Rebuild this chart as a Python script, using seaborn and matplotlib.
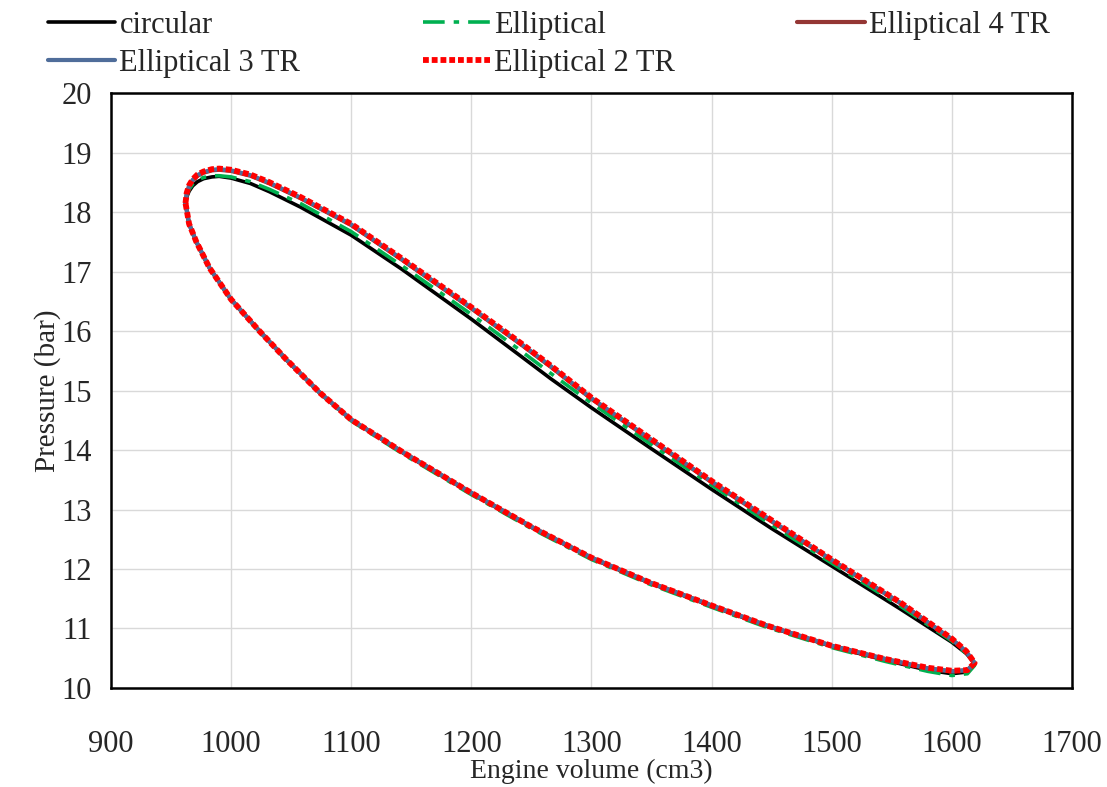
import matplotlib
matplotlib.use("Agg")
import matplotlib.pyplot as plt
import seaborn as sns
import pandas as pd

# ---------------- data ----------------
series_names = ["circular", "Elliptical", "Elliptical 4 TR", "Elliptical 3 TR", "Elliptical 2 TR"]

# upper branch volumes (left tip -> right tip)
vol_upper = [962, 963, 965, 968, 972, 977, 984, 990, 1000, 1016, 1032, 1058, 1100, 1142, 1200,
             1241, 1266, 1300, 1350, 1400, 1450, 1500, 1557, 1600, 1612, 1619]

p_upper_circular = [18.15, 18.25, 18.35, 18.44, 18.51, 18.56, 18.59, 18.60, 18.57, 18.48, 18.34, 18.08,
                    17.61, 17.04, 16.20, 15.58, 15.20, 14.71, 14.02, 13.34, 12.68, 12.05, 11.33,
                    10.77, 10.58, 10.42]
p_upper_elliptical = [18.15, 18.27, 18.38, 18.47, 18.54, 18.58, 18.61, 18.61, 18.59, 18.51, 18.38, 18.14,
                      17.67, 17.10, 16.28, 15.67, 15.29, 14.79, 14.09, 13.41, 12.74, 12.10, 11.38,
                      10.79, 10.58, 10.41]
p_upper_ell_4tr = [18.15, 18.30, 18.43, 18.53, 18.61, 18.66, 18.70, 18.71, 18.69, 18.61, 18.48, 18.23,
                   17.78, 17.20, 16.38, 15.78, 15.40, 14.86, 14.16, 13.46, 12.80, 12.15, 11.43,
                   10.82, 10.61, 10.42]
p_upper_ell_3tr = [18.15, 18.31, 18.44, 18.54, 18.62, 18.67, 18.71, 18.72, 18.70, 18.62, 18.49, 18.24,
                   17.79, 17.21, 16.39, 15.79, 15.41, 14.87, 14.17, 13.47, 12.81, 12.15, 11.43,
                   10.82, 10.61, 10.42]
p_upper_ell_2tr = [18.15, 18.32, 18.45, 18.55, 18.63, 18.68, 18.72, 18.73, 18.71, 18.63, 18.50, 18.25,
                   17.80, 17.22, 16.40, 15.80, 15.42, 14.88, 14.18, 13.48, 12.82, 12.16, 11.44,
                   10.83, 10.62, 10.42]

# lower branch volumes (right tip -> left tip)
vol_lower = [1619, 1613, 1600, 1580, 1544, 1500, 1446, 1401, 1349, 1300, 1250, 1200, 1144,
             1100, 1074, 1046, 1024, 1000, 982, 971, 965, 962]

p_lower_circular = [10.40, 10.27, 10.24, 10.30, 10.47, 10.70, 11.04, 11.37, 11.76, 12.18, 12.70,
                    13.27, 13.94, 14.51, 14.96, 15.52, 15.99, 16.53, 17.06, 17.50, 17.80, 18.15]
p_lower_elliptical = [10.38, 10.24, 10.21, 10.28, 10.45, 10.68, 11.02, 11.35, 11.74, 12.16, 12.68,
                      13.25, 13.92, 14.49, 14.95, 15.51, 15.98, 16.52, 17.05, 17.49, 17.80, 18.15]
p_lower_ell_4tr = [10.42, 10.30, 10.28, 10.33, 10.49, 10.71, 11.05, 11.38, 11.77, 12.19, 12.71,
                   13.28, 13.95, 14.51, 14.96, 15.52, 15.99, 16.53, 17.06, 17.50, 17.80, 18.15]
p_lower_ell_3tr = [10.42, 10.30, 10.28, 10.33, 10.49, 10.71, 11.05, 11.38, 11.77, 12.19, 12.71,
                   13.28, 13.95, 14.51, 14.96, 15.52, 15.99, 16.53, 17.06, 17.50, 17.80, 18.15]
p_lower_ell_2tr = [10.42, 10.30, 10.29, 10.34, 10.49, 10.71, 11.05, 11.38, 11.77, 12.19, 12.71,
                   13.28, 13.95, 14.51, 14.96, 15.52, 15.99, 16.53, 17.06, 17.50, 17.80, 18.15]

x_ticks = [900, 1000, 1100, 1200, 1300, 1400, 1500, 1600, 1700]
y_ticks = [10, 11, 12, 13, 14, 15, 16, 17, 18, 19, 20]

uppers = [p_upper_circular, p_upper_elliptical, p_upper_ell_4tr, p_upper_ell_3tr, p_upper_ell_2tr]
lowers = [p_lower_circular, p_lower_elliptical, p_lower_ell_4tr, p_lower_ell_3tr, p_lower_ell_2tr]

rows = []
for name, pu, pl in zip(series_names, uppers, lowers):
    order = 0
    for v, p in zip(vol_upper, pu):
        rows.append((name, order, v, p)); order += 1
    for v, p in zip(vol_lower, pl):
        rows.append((name, order, v, p)); order += 1
df = pd.DataFrame(rows, columns=["series", "order", "volume", "pressure"])

# ---------------- style ----------------
sns.set_theme(style="whitegrid")
plt.rcParams["font.family"] = ["Liberation Serif", "DejaVu Serif"]

styles = {
    "circular":        dict(color="black",   lw=2.6, ls="-"),
    "Elliptical":      dict(color="#00B050", lw=2.6, ls=(0, (6, 2.5, 1.5, 2.5))),
    "Elliptical 4 TR": dict(color="#943634", lw=3.0, ls="-"),
    "Elliptical 3 TR": dict(color="#4F6D9A", lw=3.0, ls="-"),
    "Elliptical 2 TR": dict(color="#FF0000", lw=4.2, ls=(0, (1.0, 0.5))),
}

fig = plt.figure(figsize=(11.07, 7.87), dpi=100)
ax = fig.add_axes([0.1003, 0.1258, 0.868, 0.756])

handles = {}
for name in series_names:
    st = styles[name]
    sub = df[df["series"] == name]
    sns.lineplot(data=sub, x="volume", y="pressure", sort=False, estimator=None,
                 ax=ax, color=st["color"], linewidth=st["lw"], linestyle=st["ls"],
                 legend=False)
    line = ax.lines[-1]
    line.set_solid_joinstyle("round")
    line.set_dash_joinstyle("round")
    handles[name] = line

ax.set_xlim(900, 1700)
ax.set_ylim(10, 20)
ax.set_xticks(x_ticks)
ax.set_yticks(y_ticks)
ax.tick_params(axis="both", labelsize=22, length=0)
ax.tick_params(axis="y", pad=14)
ax.tick_params(axis="x", pad=30)
ax.grid(True, color="#D9D9D9", linewidth=1.0)
for sp in ax.spines.values():
    sp.set_color("black")
    sp.set_linewidth(1.8)

ax.set_xlabel("Engine volume (cm3)", fontsize=20, labelpad=0)
ax.set_ylabel("Pressure (bar)", fontsize=21, labelpad=0)

leg_order = ["circular", "Elliptical 3 TR", "Elliptical", "Elliptical 2 TR", "Elliptical 4 TR"]
fig.legend([handles[n] for n in leg_order], leg_order, loc="upper left",
           bbox_to_anchor=(0.043, 0.986), ncol=3, frameon=False, fontsize=22,
           handlelength=2.2, handletextpad=0.15, columnspacing=4.0, labelspacing=0.3,
           borderpad=0, borderaxespad=0)

fig.savefig("out.png", dpi=100)
